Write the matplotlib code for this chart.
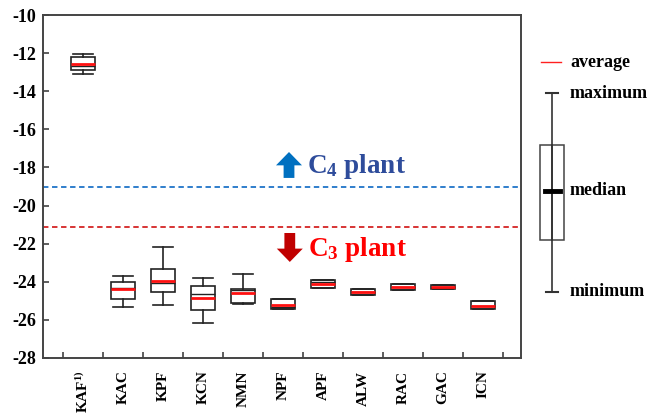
import matplotlib
matplotlib.use("Agg")
import matplotlib.pyplot as plt

plt.rcParams['font.family'] = ['Liberation Serif', 'DejaVu Serif']
plt.rcParams['font.weight'] = 'bold'
plt.rcParams['mathtext.fontset'] = 'custom'
plt.rcParams['mathtext.rm'] = 'Liberation Serif:bold'
plt.rcParams['mathtext.bf'] = 'Liberation Serif:bold'
plt.rcParams['mathtext.it'] = 'Liberation Serif:bold'

# ---- data ----
categories = ['KAF$^{\\mathbf{1)}}$', 'KAC', 'KPF', 'KCN', 'NMN', 'NPF', 'APF', 'ALW', 'RAC', 'GAC', 'ICN']
whis_hi = [-12.05, -23.68, -22.19, -23.78, -23.57, -24.88, -23.90, -24.39, -24.11, -24.18, -25.02]
q3      = [-12.22, -24.00, -23.31, -24.22, -24.36, -24.88, -23.90, -24.39, -24.11, -24.18, -25.02]
median  = [-12.68, -24.35, -24.08, -24.66, -24.43, -25.33, -24.00, -24.55, -24.25, -24.27, -25.25]
mean    = [-12.59, -24.39, -23.94, -24.85, -24.58, -25.20, -24.10, -24.55, -24.27, -24.29, -25.25]
q1      = [-12.89, -24.88, -24.55, -25.48, -25.13, -25.44, -24.31, -24.71, -24.44, -24.39, -25.44]
whis_lo = [-13.10, -25.30, -25.21, -26.14, -25.15, -25.44, -24.31, -24.71, -24.44, -24.39, -25.44]
c4_line = -19.0
c3_line = -21.1
yticks = [-10, -12, -14, -16, -18, -20, -22, -24, -26, -28]

fig = plt.figure(figsize=(6.49, 4.17), dpi=100)
ax = fig.add_axes([43/649, 1-358/417, 478/649, (358-15)/417])

stats = []
for i in range(len(categories)):
    stats.append(dict(med=median[i], q1=q1[i], q3=q3[i], whislo=whis_lo[i],
                      whishi=whis_hi[i], mean=mean[i], fliers=[]))
positions = list(range(1, len(categories) + 1))
ax.bxp(stats, positions=positions, widths=0.62, showmeans=True, meanline=True,
       patch_artist=True, manage_ticks=False,
       boxprops=dict(facecolor='white', edgecolor='#222222', linewidth=1.2),
       whiskerprops=dict(color='#222222', linewidth=1.2),
       capprops=dict(color='#222222', linewidth=1.2),
       capwidths=0.5,
       medianprops=dict(color='#222222', linewidth=1.0),
       meanprops=dict(color='#ff1010', linewidth=2.0, linestyle='-'))

ax.axhline(c4_line, color='#1f74c8', linestyle=(0, (3, 2)), linewidth=1.3)
ax.axhline(c3_line, color='#d42424', linestyle=(0, (3, 2)), linewidth=1.3)

ax.set_xlim(0, 11.95)
ax.set_ylim(-28, -10)
ax.set_yticks(yticks)
ax.set_yticklabels([str(v) for v in yticks], fontsize=13, fontweight='bold')
ax.set_xticks([p - 0.5 for p in positions] + [positions[-1] + 0.5])
ax.set_xticklabels([])
ax.set_xticks(positions, minor=True)
ax.set_xticklabels(categories, minor=True, rotation=90, fontsize=11,
                   fontweight='bold', va='top', ha='center')
ax.tick_params(axis='x', which='minor', length=0, pad=9)
ax.tick_params(axis='x', which='major', direction='in', length=4, width=1.1, color='#333333')
ax.tick_params(axis='y', direction='in', length=4, width=1.1, color='#333333', pad=5)
for s in ax.spines.values():
    s.set_color('#444444')
    s.set_linewidth(1.4)

# arrows and labels
ax.arrow(6.15, -18.55, 0, 1.36, width=0.27, head_width=0.65, head_length=0.7,
         length_includes_head=True, color='#0070c0', linewidth=0)
ax.arrow(6.17, -21.44, 0, -1.52, width=0.27, head_width=0.65, head_length=0.7,
         length_includes_head=True, color='#c00000', linewidth=0)
ax.text(6.6, -17.95, 'C$_{\\mathbf{4}}$ plant', color='#2e4c9b', fontsize=19.5,
        fontweight='bold', va='center', ha='left')
ax.text(6.62, -22.3, 'C$_{\\mathbf{3}}$ plant', color='#ff0000', fontsize=19.5,
        fontweight='bold', va='center', ha='left')

# ---- legend key (pixel coordinates overlay) ----
lx = fig.add_axes([0, 0, 1, 1])
lx.set_xlim(0, 649)
lx.set_ylim(417, 0)
lx.axis('off')
lx.plot([541, 561], [62, 62], color='#ff2020', linewidth=1.0)
lx.plot([552, 552], [93, 292], color='#333333', linewidth=1.2)
lx.plot([546, 558], [93, 93], color='#333333', linewidth=1.5)
lx.plot([546, 558], [292, 292], color='#333333', linewidth=1.5)
lx.add_patch(plt.Rectangle((540, 145), 24, 95, facecolor='white',
                           edgecolor='#444444', linewidth=1.1))
lx.plot([552, 552], [145, 240], color='#333333', linewidth=1.2)
lx.plot([545, 560], [191, 191], color='black', linewidth=3.5)
for txt, yy in [('average', 62), ('maximum', 93), ('median', 190), ('minimum', 292)]:
    lx.text(570, yy, txt, fontsize=13, fontweight='bold', va='center', ha='left')

fig.savefig('out.png', dpi=100)
